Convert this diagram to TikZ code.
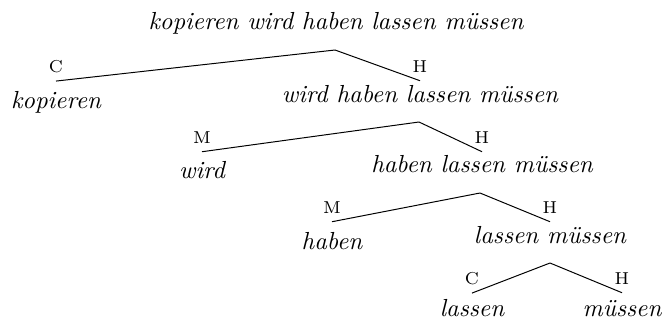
\documentclass[tikz,border=0pt]{standalone}
\usepackage{fontspec}
\usepackage{tikz}
\usetikzlibrary{positioning}

\begin{document}
\begin{tikzpicture}[x=0.405pt, y=-0.405pt, phrase/.style = {font=\itshape, anchor=base, inner sep=0pt}, rel/.style = {font=\scriptsize, anchor=base}]
		\useasboundingbox (0,0) rectangle (664,321);
		% top phrase
		\node[phrase] (p0) at (336,29) {kopieren wird haben lassen müssen};
		\coordinate (k1) at (335,50);
		\node[rel] (c1) at (56,72) {C};
		\node[rel] (h1) at (420,72) {H};
		\node[phrase] (p1l) at (56,108) {kopieren};
		\node[phrase] (p1r) at (420,102) {wird haben lassen müssen};
		\draw (k1) -- (c1.south);
		\draw (k1) -- (h1.south);
		% second level
		\coordinate (k2) at (419,122);
		\node[rel] (m2) at (202,143) {M};
		\node[rel] (h2) at (482,143) {H};
		\node[phrase] (p2l) at (202,178) {wird};
		\node[phrase] (p2r) at (482,172) {haben lassen müssen};
		\draw (k2) -- (m2.south);
		\draw (k2) -- (h2.south);
		% third level
		\coordinate (k3) at (480,193);
		\node[rel] (m3) at (332,213) {M};
		\node[rel] (h3) at (550,213) {H};
		\node[phrase] (p3l) at (332,249) {haben};
		\node[phrase] (p3r) at (550,243) {lassen müssen};
		\draw (k3) -- (m3.south);
		\draw (k3) -- (h3.south);
		% last level
		\coordinate (k4) at (550,263);
		\node[rel] (c4) at (472,284) {C};
		\node[rel] (h4) at (622,284) {H};
		\node[phrase] (p4l) at (472,316) {lassen};
		\node[phrase] (p4r) at (622,316) {müssen};
		\draw (k4) -- (c4.south);
		\draw (k4) -- (h4.south);
	\end{tikzpicture}
\end{document}
